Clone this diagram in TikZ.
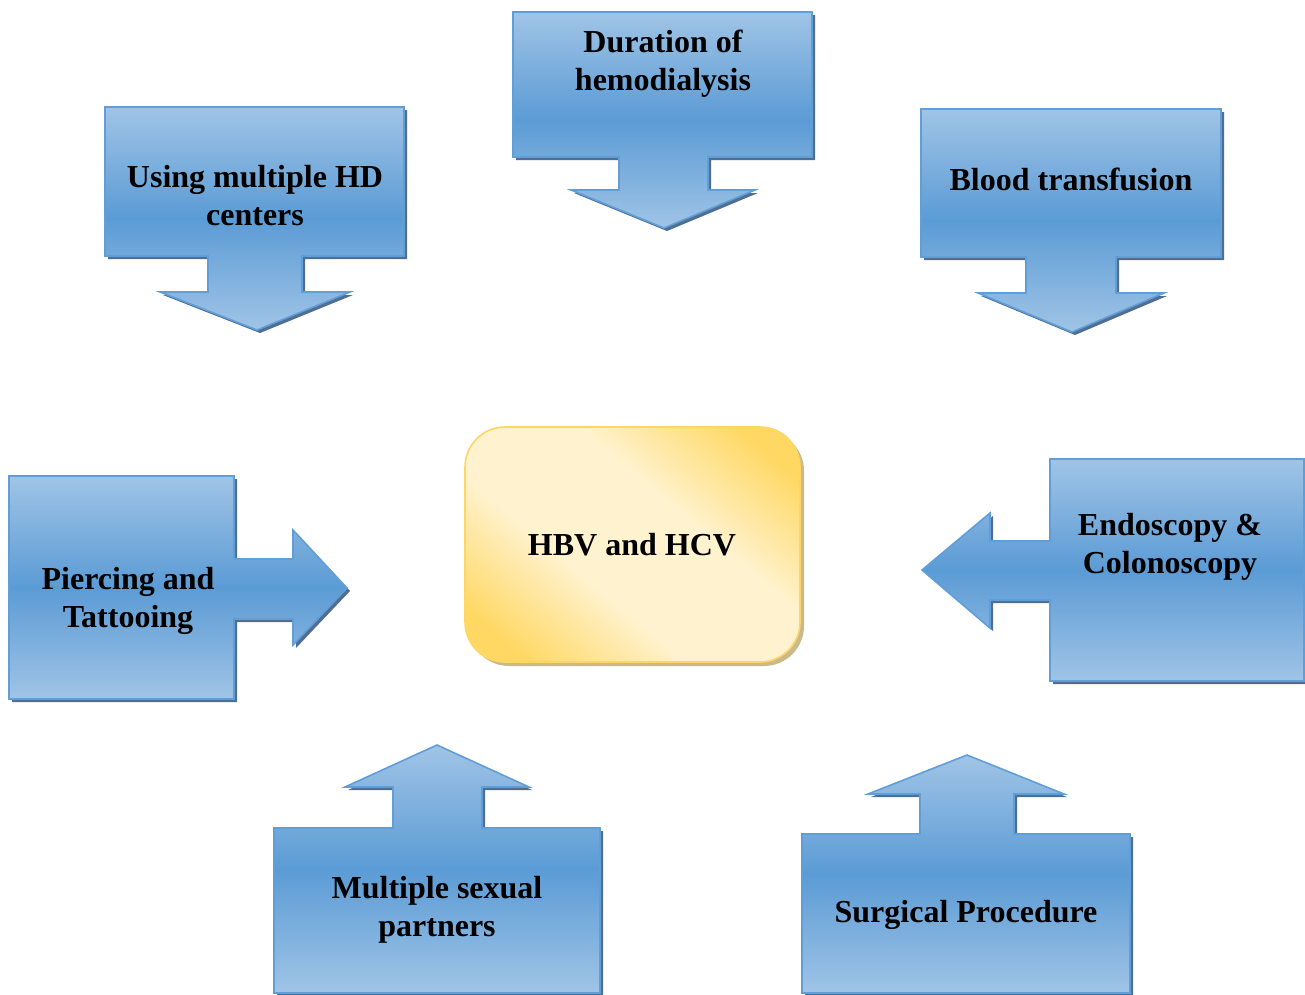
\documentclass[tikz,border=0pt]{standalone}
\usepackage{fontspec}
\setmainfont{Liberation Serif}
\definecolor{blt}{RGB}{160,196,230}
\definecolor{bmd}{RGB}{91,155,213}
\definecolor{bbd}{RGB}{96,158,216}
\definecolor{bsh}{RGB}{80,110,146}
\definecolor{ydk}{RGB}{255,216,100}
\definecolor{ylt}{RGB}{255,242,206}
\definecolor{ybd}{RGB}{255,214,100}
\definecolor{ysh}{RGB}{200,186,140}
\pgfdeclareverticalshading{ycen}{100bp}{color(0bp)=(ydk); color(22bp)=(ydk); color(40bp)=(ylt); color(60bp)=(ylt); color(78bp)=(ydk); color(100bp)=(ydk)}
\tikzset{
  callout/.style={draw=bbd, line width=1.6pt, line join=miter, top color=blt, bottom color=blt, middle color=bmd},
  calloutshadow/.style={fill=bsh},
  lbl/.style={font=\bfseries\fontsize{32}{38}\selectfont, align=center, text=black, inner sep=0pt}
}
\begin{document}
\begin{tikzpicture}[x=1pt,y=-1pt]
\useasboundingbox (0,0) rectangle (1305,994);
\begin{scope}
\clip (0,0) rectangle (1305,994);
% ---------- Duration of hemodialysis (down)
\fill[calloutshadow, shift={(3,3)}] (513,12) -- (812,12) -- (812,157) -- (708,157) -- (708,190) -- (755,190) -- (664,228) -- (571,190) -- (619,190) -- (619,157) -- (513,157) -- cycle;
\shade[callout] (513,12) -- (812,12) -- (812,157) -- (708,157) -- (708,190) -- (755,190) -- (664,228) -- (571,190) -- (619,190) -- (619,157) -- (513,157) -- cycle;
% ---------- Using multiple HD centers (down)
\fill[calloutshadow, shift={(3,3)}] (105,107) -- (404,107) -- (404,256) -- (302,256) -- (302,292) -- (350,292) -- (257,330) -- (160,292) -- (208,292) -- (208,256) -- (105,256) -- cycle;
\shade[callout] (105,107) -- (404,107) -- (404,256) -- (302,256) -- (302,292) -- (350,292) -- (257,330) -- (160,292) -- (208,292) -- (208,256) -- (105,256) -- cycle;
% ---------- Blood transfusion (down)
\fill[calloutshadow, shift={(3,3)}] (921,109) -- (1221,109) -- (1221,257) -- (1116,257) -- (1116,293) -- (1164,293) -- (1072,332) -- (978,293) -- (1026,293) -- (1026,257) -- (921,257) -- cycle;
\shade[callout] (921,109) -- (1221,109) -- (1221,257) -- (1116,257) -- (1116,293) -- (1164,293) -- (1072,332) -- (978,293) -- (1026,293) -- (1026,257) -- (921,257) -- cycle;
% ---------- Piercing and Tattooing (right)
\fill[calloutshadow, shift={(3,3)}] (9,476) -- (234,476) -- (234,559) -- (293,559) -- (293,530) -- (347,588) -- (293,645) -- (293,619) -- (234,619) -- (234,699) -- (9,699) -- cycle;
\shade[callout] (9,476) -- (234,476) -- (234,559) -- (293,559) -- (293,530) -- (347,588) -- (293,645) -- (293,619) -- (234,619) -- (234,699) -- (9,699) -- cycle;
% ---------- Endoscopy & Colonoscopy (left)
\fill[calloutshadow, shift={(3,3)}] (1050,459) -- (1304,459) -- (1304,681) -- (1050,681) -- (1050,600) -- (990,600) -- (990,628) -- (922,570) -- (990,513) -- (990,541) -- (1050,541) -- cycle;
\shade[callout] (1050,459) -- (1304,459) -- (1304,681) -- (1050,681) -- (1050,600) -- (990,600) -- (990,628) -- (922,570) -- (990,513) -- (990,541) -- (1050,541) -- cycle;
% ---------- Multiple sexual partners (up)
\fill[calloutshadow, shift={(3,3)}] (274,828) -- (393,828) -- (393,787) -- (345,787) -- (437,745) -- (529,787) -- (482,787) -- (482,828) -- (600,828) -- (600,993) -- (274,993) -- cycle;
\shade[callout] (274,828) -- (393,828) -- (393,787) -- (345,787) -- (437,745) -- (529,787) -- (482,787) -- (482,828) -- (600,828) -- (600,993) -- (274,993) -- cycle;
% ---------- Surgical Procedure (up)
\fill[calloutshadow, shift={(3,3)}] (802,834) -- (920,834) -- (920,794) -- (868,794) -- (967,755) -- (1064,794) -- (1014,794) -- (1014,834) -- (1130,834) -- (1130,993) -- (802,993) -- cycle;
\shade[callout] (802,834) -- (920,834) -- (920,794) -- (868,794) -- (967,755) -- (1064,794) -- (1014,794) -- (1014,834) -- (1130,834) -- (1130,993) -- (802,993) -- cycle;
% ---------- centre
\fill[ysh, rounded corners=40pt] (469,431) rectangle (804,666);
\shade[draw=ybd, line width=1.6pt, rounded corners=40pt, shading=ycen, shading angle=-40] (465,427) rectangle (800,662);
\end{scope}
% ---------- labels
\node[lbl] (dur) at (663,64) {Duration of\\hemodialysis};
\node[lbl] (hd) at (255,196) {Using multiple HD\\centers};
\node[lbl] (blood) at (1071,179) {Blood transfusion};
\node[lbl] (pier) at (128,601) {Piercing and\\Tattooing};
\node[lbl] (endo) at (1170,547) {Endoscopy \&\\Colonoscopy};
\node[lbl] (hbv) at (632,545) {HBV and HCV};
\node[lbl] (sex) at (437,910) {Multiple sexual\\partners};
\node[lbl] (surg) at (966,915) {Surgical Procedure};
\end{tikzpicture}
\end{document}
